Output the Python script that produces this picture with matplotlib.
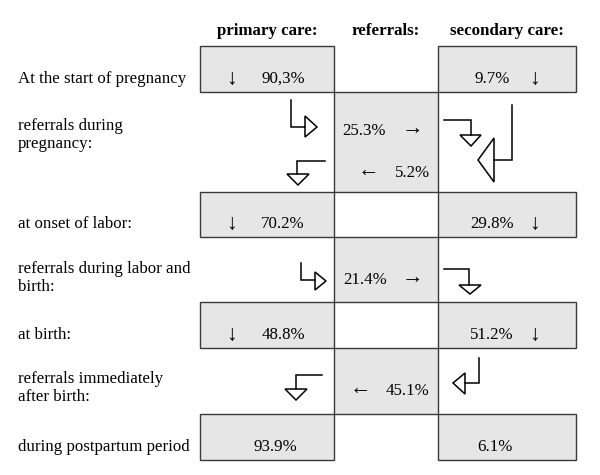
import matplotlib
matplotlib.use("Agg")
import matplotlib.pyplot as plt
from matplotlib.patches import Rectangle, Polygon

# ── Data ───────────────────────────────────────────────────────────────────────
HEADERS = ["primary care:", "referrals:", "secondary care:"]
STAGES = ["At the start of pregnancy", "at onset of labor:", "at birth:",
          "during postpartum period"]
PRIMARY = ["90,3%", "70.2%", "48.8%", "93.9%"]
SECONDARY = ["9.7%", "29.8%", "51.2%", "6.1%"]
REFERRAL_STEPS = [["referrals during", "pregnancy:"],
                  ["referrals during labor and", "birth:"],
                  ["referrals immediately", "after birth:"]]
TO_SECONDARY = ["25.3%", "21.4%", None]
TO_PRIMARY = ["5.2%", None, "45.1%"]

# ── Layout (pixel coordinates, y downwards) ────────────────────────────────────
FONT = ["Liberation Serif", "DejaVu Serif"]
FS = 12.2
AFS = 15.5        # arrow glyph size
FILL = "#e6e6e6"
EDGE = "#3a3a3a"
X0, X1, X2, X3 = 200, 334, 438, 576
BOX_ROWS = [(46, 92), (192, 237), (302, 348), (414, 460)]
REF_ROWS = [(92, 192), (237, 302), (348, 414)]
BOX_BASE = [83, 228, 339, 451]
LABEL_BASE = [130, 273, 383]

fig = plt.figure(figsize=(6, 4.75), dpi=100)
ax = fig.add_axes([0, 0, 1, 1])
ax.set_xlim(0, 600)
ax.set_ylim(475, 0)
ax.axis("off")


def txt(x, y, s, ha="center", size=FS, **kw):
    ax.text(x, y, s, ha=ha, va="baseline", fontsize=size, family=FONT, **kw)


def arrow(x, y, s):
    txt(x, y, s, size=AFS)


def box(x0, x1, y0, y1):
    ax.add_patch(Rectangle((x0, y0), x1 - x0, y1 - y0, facecolor=FILL,
                           edgecolor=EDGE, lw=1.0))


def bent(path, tri):
    xs, ys = zip(*path)
    ax.plot(xs, ys, color="black", lw=1.1, solid_joinstyle="miter")
    ax.add_patch(Polygon(tri, closed=True, facecolor="white",
                         edgecolor="black", lw=1.1))


# headers
for x, h in zip([267, 386, 507], HEADERS):
    txt(x, 35, h, weight="bold")

# stage boxes
for (y0, y1), ty, stage, p, s, i in zip(BOX_ROWS, BOX_BASE, STAGES, PRIMARY,
                                        SECONDARY, range(4)):
    box(X0, X1, y0, y1)
    box(X2, X3, y0, y1)
    txt(18, ty, stage, ha="left")
    if i < 3:
        arrow(232, ty + 1, "↓")
        txt(283, ty, p)
        txt(492, ty, s)
        arrow(535, ty + 1, "↓")
    else:
        txt(275, ty, p)
        txt(495, ty, s)

# referral boxes
for (y0, y1), lines, ly in zip(REF_ROWS, REFERRAL_STEPS, LABEL_BASE):
    box(X1, X2, y0, y1)
    for k, line in enumerate(lines):
        txt(18, ly + 18 * k, line, ha="left")

txt(364, 135, TO_SECONDARY[0])
arrow(412, 134, "→")
arrow(368, 176, "←")
txt(412, 177, TO_PRIMARY[0])
txt(365, 284, TO_SECONDARY[1])
arrow(412, 283, "→")
arrow(360, 394, "←")
txt(407, 395, TO_PRIMARY[2])

# ── Bent flow arrows ───────────────────────────────────────────────────────────
# pregnancy, primary side
bent([(291, 100), (291, 127), (305, 127)],
     [(305, 116), (305, 137), (317, 127)])
bent([(325, 161), (297, 161), (297, 174)],
     [(287, 174), (309, 174), (298, 185)])
# pregnancy, secondary side
bent([(444, 120), (471, 120), (471, 135)],
     [(460, 135), (481, 135), (471, 146)])
bent([(512, 105), (512, 160), (494, 160)],
     [(494, 138), (494, 182), (478, 160)])
# labor, primary / secondary
bent([(301, 263), (301, 280), (315, 280)],
     [(315, 272), (315, 290), (326, 281)])
bent([(444, 269), (469, 269), (469, 285)],
     [(459, 285), (481, 285), (470, 294)])
# after birth, primary / secondary
bent([(322, 375), (296, 375), (296, 389)],
     [(285, 389), (307, 389), (296, 400)])
bent([(479, 358), (479, 383), (465, 383)],
     [(465, 373), (465, 394), (453, 383)])

fig.savefig("out.png", dpi=100, facecolor="white")
